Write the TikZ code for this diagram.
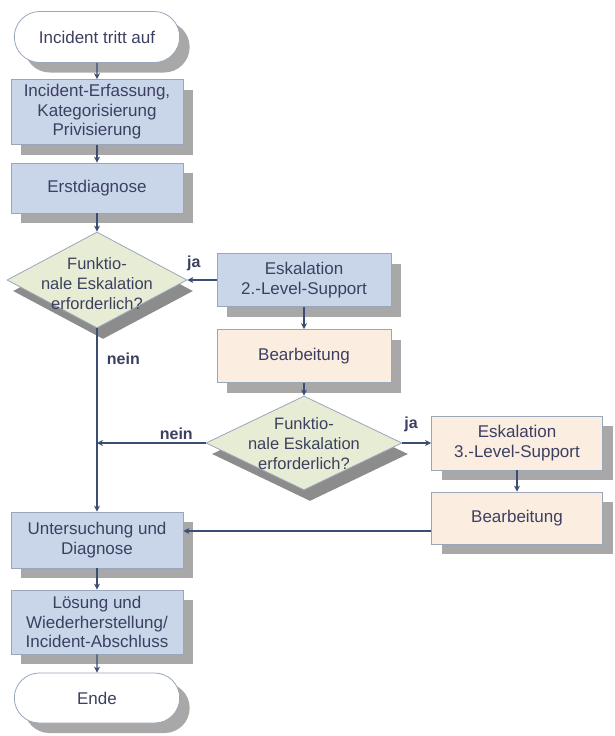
\documentclass[tikz,border=0pt]{standalone}
\usepackage{fontspec}
\setmainfont{Liberation Sans}
\usetikzlibrary{shapes.geometric,shapes.misc,shadows,arrows.meta}
\definecolor{boxblue}{HTML}{C9D6EA}
\definecolor{boxorange}{HTML}{FCEDE1}
\definecolor{diafill}{HTML}{E7ECD4}
\definecolor{edge}{HTML}{9AA6BA}
\definecolor{arrowc}{HTML}{3B4D73}
\definecolor{txt}{HTML}{3C4060}
\definecolor{shade}{HTML}{A8A8A8}
\definecolor{dshade}{HTML}{8C8C8C}
\tikzset{
  shd/.style={drop shadow={shadow xshift=10pt,shadow yshift=-10pt,fill=shade,opacity=1}},
  base/.style={draw=edge,line width=0.8pt,text=txt,font=\fontsize{17}{19.5}\selectfont,align=center},
  bluebox/.style={base,shd,rectangle,fill=boxblue,minimum width=172pt,inner sep=1pt},
  orangebox/.style={base,shd,rectangle,fill=boxorange,minimum width=172pt,inner sep=1pt},
  term/.style={base,shd,rounded rectangle,fill=white,minimum width=172pt,minimum height=51pt},
  decision/.style={draw=edge,line width=0.8pt,diamond,fill=diafill,inner sep=0pt,
    drop shadow={shadow xshift=6pt,shadow yshift=-11pt,fill=dshade,opacity=1}},
  dtext/.style={text=txt,font=\fontsize{16.5}{20}\selectfont,align=center},
  conn/.style={draw=arrowc,line width=1.2pt,-{Stealth[length=6pt,width=6pt]}},
  lbl/.style={text=txt,font=\bfseries\fontsize{16}{18}\selectfont}
}
\begin{document}
\begin{tikzpicture}[x=1pt,y=-1pt]
\useasboundingbox[fill=white] (0,0) rectangle (614,736);
\node[term] (start) at (97,37) {Incident tritt auf};
\node[bluebox,minimum height=65pt] (erf) at (97,112) {Incident-Erfassung,\\Kategorisierung\\Privisierung};
\node[bluebox,minimum height=50pt] (erst) at (97,188) {Erstdiagnose};
\node[decision,minimum width=180pt,minimum height=96pt,
  label={[dtext,yshift=-4pt]center:Funktio-\\nale Eskalation\\erforderlich?}] (d1) at (97,280) {};
\node[bluebox,minimum width=174pt,minimum height=53pt] (esk2) at (304,280) {Eskalation\\2.-Level-Support};
\node[orangebox,minimum width=174pt,minimum height=53pt] (bear2) at (304,356) {Bearbeitung};
\node[decision,minimum width=196pt,minimum height=94pt,
  label={[dtext,yshift=-1pt]center:Funktio-\\nale Eskalation\\erforderlich?}] (d2) at (304,443) {};
\node[orangebox,minimum width=171pt,minimum height=54pt] (esk3) at (517,443) {Eskalation\\3.-Level-Support};
\node[orangebox,minimum width=171pt,minimum height=52pt] (bear3) at (517,518) {Bearbeitung};
\node[bluebox,minimum height=56pt] (unt) at (97,540) {Untersuchung und\\Diagnose};
\node[bluebox,minimum height=64pt] (loes) at (97,622) {Lösung und\\Wiederherstellung/\\Incident-Abschluss};
\node[term,minimum height=50pt] (ende) at (97,698) {Ende};
\coordinate (j1) at (97,443);
\coordinate (u) at (0,531);
\draw[conn] (start) -- (erf);
\draw[conn] (erf) -- (erst);
\draw[conn] (erst) -- (d1);
\draw[conn] (esk2.west) -- (d1.east) node[lbl,pos=0.78,above,yshift=5pt] {ja};
\draw[conn] (esk2) -- (bear2);
\draw[conn] (bear2) -- (d2);
\draw[conn] (d2.east) -- (esk3.west) node[lbl,pos=0.3,above,yshift=7pt] {ja};
\draw[conn] (esk3) -- (bear3);
\draw[conn] (d2.west) -- (j1) node[lbl,pos=0.27,above,yshift=-1pt] {nein};
\draw[conn] (d1.south) -- (unt.north) node[lbl,pos=0.165,right,xshift=6pt] {nein};
\draw[conn] (bear3.west |- u) -- (unt.east |- u);
\draw[conn] (unt) -- (loes);
\draw[conn] (loes) -- (ende);
\end{tikzpicture}
\end{document}
